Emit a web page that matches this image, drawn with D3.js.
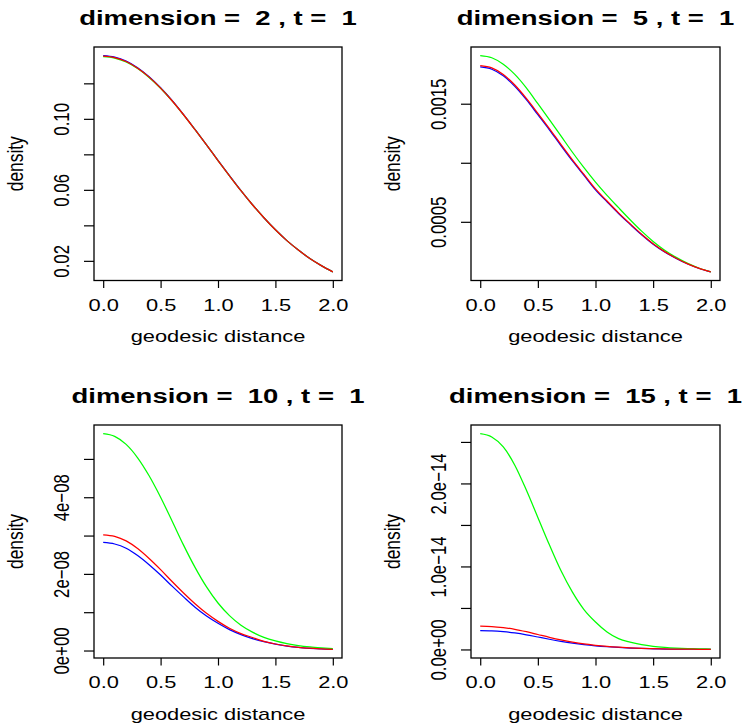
<!DOCTYPE html>
<html>
<head>
<meta charset="utf-8">
<script src="https://cdn.jsdelivr.net/npm/d3@7"></script>
<style>
  body { margin: 0; background: #fff; }
  svg { display: block; }
  text { font-family: "Liberation Sans", Arial, Helvetica, sans-serif; white-space: pre; fill: #000; }
</style>
</head>
<body>
<div id="chart"></div>
<script>
// geodesic distance grid shared by every curve
const distance = [0.0, 0.1, 0.2, 0.3, 0.4, 0.5, 0.6, 0.7, 0.8, 0.9, 1.0,
                  1.1, 1.2, 1.3, 1.4, 1.5, 1.6, 1.7, 1.8, 1.9, 2.0];

const dimensions = [2, 5, 10, 15];
const timeValue = 1;

// dimension 2
const blue2  = [0.1356, 0.1348, 0.1326, 0.1288, 0.1237, 0.1175, 0.1104, 0.1024, 0.0940, 0.0854, 0.0766,
                0.0680, 0.0596, 0.0517, 0.0443, 0.0375, 0.0314, 0.0261, 0.0213, 0.0173, 0.0138];
const green2 = [0.1350, 0.1342, 0.1320, 0.1283, 0.1233, 0.1172, 0.1101, 0.1022, 0.0939, 0.0853, 0.0765,
                0.0679, 0.0595, 0.0516, 0.0443, 0.0375, 0.0314, 0.0261, 0.0213, 0.0173, 0.0138];
const red2   = [0.1353, 0.1345, 0.1323, 0.1285, 0.1235, 0.1173, 0.1102, 0.1023, 0.0939, 0.0853, 0.0765,
                0.0679, 0.0595, 0.0516, 0.0443, 0.0375, 0.0314, 0.0261, 0.0213, 0.0173, 0.0138];

// dimension 5
const blue5  = [1.811e-3, 1.792e-3, 1.736e-3, 1.647e-3, 1.534e-3, 1.407e-3, 1.279e-3, 1.145e-3, 1.015e-3, 0.893e-3, 0.771e-3,
                0.669e-3, 0.570e-3, 0.479e-3, 0.391e-3, 0.311e-3, 0.245e-3, 0.190e-3, 0.1425e-3, 0.1048e-3, 0.0763e-3];
const green5 = [1.907e-3, 1.889e-3, 1.834e-3, 1.748e-3, 1.634e-3, 1.500e-3, 1.3645e-3, 1.227e-3, 1.089e-3, 0.958e-3, 0.836e-3,
                0.724e-3, 0.620e-3, 0.518e-3, 0.421e-3, 0.334e-3, 0.260e-3, 0.199e-3, 0.148e-3, 0.107e-3, 0.0763e-3];
const red5   = [1.822e-3, 1.803e-3, 1.747e-3, 1.658e-3, 1.545e-3, 1.419e-3, 1.290e-3, 1.155e-3, 1.024e-3, 0.901e-3, 0.779e-3,
                0.676e-3, 0.576e-3, 0.4835e-3, 0.395e-3, 0.315e-3, 0.2474e-3, 0.1913e-3, 0.1433e-3, 0.1052e-3, 0.0763e-3];

// dimension 10
const blue10  = [2.82e-8, 2.78e-8, 2.67e-8, 2.48e-8, 2.24e-8, 1.97e-8, 1.68e-8, 1.40e-8, 1.13e-8, 0.90e-8, 0.71e-8,
                 0.545e-8, 0.415e-8, 0.31e-8, 0.23e-8, 0.165e-8, 0.115e-8, 0.08e-8, 0.057e-8, 0.04e-8, 0.03e-8];
const green10 = [5.66e-8, 5.59e-8, 5.38e-8, 5.03e-8, 4.56e-8, 4.00e-8, 3.38e-8, 2.75e-8, 2.17e-8, 1.66e-8, 1.24e-8,
                 0.91e-8, 0.66e-8, 0.48e-8, 0.345e-8, 0.25e-8, 0.18e-8, 0.13e-8, 0.095e-8, 0.07e-8, 0.05e-8];
const red10   = [3.02e-8, 2.98e-8, 2.86e-8, 2.66e-8, 2.40e-8, 2.11e-8, 1.80e-8, 1.50e-8, 1.22e-8, 0.97e-8, 0.76e-8,
                 0.58e-8, 0.44e-8, 0.34e-8, 0.24e-8, 0.17e-8, 0.12e-8, 0.085e-8, 0.06e-8, 0.04e-8, 0.03e-8];

// dimension 15
const blue15  = [0.228e-14, 0.225e-14, 0.215e-14, 0.199e-14, 0.177e-14, 0.150e-14, 0.123e-14, 0.098e-14, 0.076e-14, 0.058e-14, 0.044e-14,
                 0.033e-14, 0.024e-14, 0.017e-14, 0.012e-14, 0.008e-14, 0.005e-14, 0.004e-14, 0.003e-14, 0.002e-14, 0.001e-14];
const green15 = [2.60e-14, 2.56e-14, 2.44e-14, 2.22e-14, 1.92e-14, 1.59e-14, 1.26e-14, 0.95e-14, 0.69e-14, 0.48e-14, 0.33e-14,
                 0.21e-14, 0.13e-14, 0.088e-14, 0.058e-14, 0.038e-14, 0.025e-14, 0.016e-14, 0.010e-14, 0.007e-14, 0.005e-14];
const red15   = [0.280e-14, 0.276e-14, 0.263e-14, 0.243e-14, 0.214e-14, 0.180e-14, 0.146e-14, 0.115e-14, 0.088e-14, 0.066e-14, 0.050e-14,
                 0.037e-14, 0.027e-14, 0.019e-14, 0.013e-14, 0.009e-14, 0.006e-14, 0.004e-14, 0.003e-14, 0.002e-14, 0.001e-14];

// ticks
const xTicks = [0, 0.5, 1, 1.5, 2];
const xTickLabels = ["0.0", "0.5", "1.0", "1.5", "2.0"];

const yTicks2  = [0.02, 0.04, 0.06, 0.08, 0.10, 0.12];
const yLabels2 = ["0.02", "", "0.06", "", "0.10", ""];
const yTicks5  = [0.0005, 0.0010, 0.0015];
const yLabels5 = ["0.0005", "", "0.0015"];
const yTicks10  = [0, 1e-8, 2e-8, 3e-8, 4e-8, 5e-8];
const yLabels10 = ["0e+00", "", "2e\u221208", "", "4e\u221208", ""];
const yTicks15  = [0, 0.5e-14, 1.0e-14, 1.5e-14, 2.0e-14, 2.5e-14];
const yLabels15 = ["0.0e+00", "", "1.0e\u221214", "", "2.0e\u221214", ""];

const xLabel = "geodesic distance";
const yLabel = "density";

// layout of the four panels: [left, top, right, bottom] of each plot box
const panels = [
  { dim: dimensions[0], box: [94, 47, 342, 280.5],  series: [blue2, green2, red2],    yTicks: yTicks2,  yLabels: yLabels2 },
  { dim: dimensions[1], box: [471, 47, 720, 280.5], series: [blue5, green5, red5],    yTicks: yTicks5,  yLabels: yLabels5 },
  { dim: dimensions[2], box: [94, 425, 342, 658],   series: [blue10, green10, red10], yTicks: yTicks10, yLabels: yLabels10 },
  { dim: dimensions[3], box: [471, 425, 720, 658],  series: [blue15, green15, red15], yTicks: yTicks15, yLabels: yLabels15 }
];
const seriesColors = ["#0000ff", "#00ff00", "#ff0000"];

// the picture is stretched sideways, so text is widened to match
const sxText = 1.3, sxRot = 1.3, sxTitle = 1.34;
const fontSize = 16.8, yLabelSize = 17.4, titleSize = 20.5;

const svg = d3.select("#chart")
  .append("svg")
  .attr("width", 745)
  .attr("height", 723);

panels.forEach((p) => {
  const [x0, y0, x1, y1] = p.box;
  const all = p.series.flat();
  const [lo, hi] = d3.extent(all);
  const pad = (hi - lo) * 0.04; // R style 4% extension

  const x = d3.scaleLinear().domain([-0.08, 2.08]).range([x0, x1]);
  const y = d3.scaleLinear().domain([lo - pad, hi + pad]).range([y1, y0]);

  const g = svg.append("g");

  const line = d3.line()
    .x((d, i) => x(distance[i]))
    .y((d) => y(d))
    .curve(d3.curveMonotoneX);

  p.series.forEach((s, i) => {
    g.append("path")
      .attr("d", line(s))
      .attr("fill", "none")
      .attr("stroke", seriesColors[i])
      .attr("stroke-width", 1.25);
  });

  // box
  g.append("rect")
    .attr("x", x0).attr("y", y0)
    .attr("width", x1 - x0).attr("height", y1 - y0)
    .attr("fill", "none")
    .attr("stroke", "#000")
    .attr("stroke-width", 1.3);

  // x axis
  const xa = g.append("g")
    .attr("transform", `translate(0,${y1})`)
    .call(d3.axisBottom(x).tickValues(xTicks).tickFormat((d, i) => xTickLabels[i]).tickSize(7.5))
    .attr("font-size", null).attr("font-family", null);
  xa.select(".domain").remove();
  xa.selectAll("line").attr("stroke", "#000").attr("stroke-width", 1.2);
  xa.selectAll("text")
    .attr("y", null).attr("dy", null)
    .attr("transform", `translate(0,30) scale(${sxText},1)`)
    .style("font-size", fontSize + "px")
    .style("fill", "#000");

  // y axis with rotated labels
  const ya = g.append("g")
    .attr("transform", `translate(${x0},0)`)
    .call(d3.axisLeft(y).tickValues(p.yTicks).tickFormat((d, i) => p.yLabels[i]).tickSize(10))
    .attr("font-size", null).attr("font-family", null);
  ya.select(".domain").remove();
  ya.selectAll("line").attr("stroke", "#000").attr("stroke-width", 1.2);
  ya.selectAll("text")
    .attr("x", null).attr("dy", null)
    .attr("text-anchor", "middle")
    .attr("transform", `translate(-25,0) scale(${sxRot},1) rotate(-90)`)
    .style("font-size", fontSize + "px")
    .style("fill", "#000");

  // title
  g.append("text")
    .attr("text-anchor", "middle")
    .attr("transform", `translate(${(x0 + x1) / 2},${y0 - 22.5}) scale(${sxTitle},1)`)
    .style("font-size", titleSize + "px")
    .style("font-weight", "bold")
    .text(`dimension =  ${p.dim} , t =  ${timeValue}`);

  // axis labels
  g.append("text")
    .attr("text-anchor", "middle")
    .attr("transform", `translate(${(x0 + x1) / 2},${y1 + 61.5}) scale(${sxText},1)`)
    .style("font-size", fontSize + "px")
    .text(xLabel);

  g.append("text")
    .attr("text-anchor", "middle")
    .attr("transform", `translate(${x0 - 71},${(y0 + y1) / 2}) scale(${sxRot},1) rotate(-90)`)
    .style("font-size", yLabelSize + "px")
    .text(yLabel);
});
</script>
</body>
</html>
